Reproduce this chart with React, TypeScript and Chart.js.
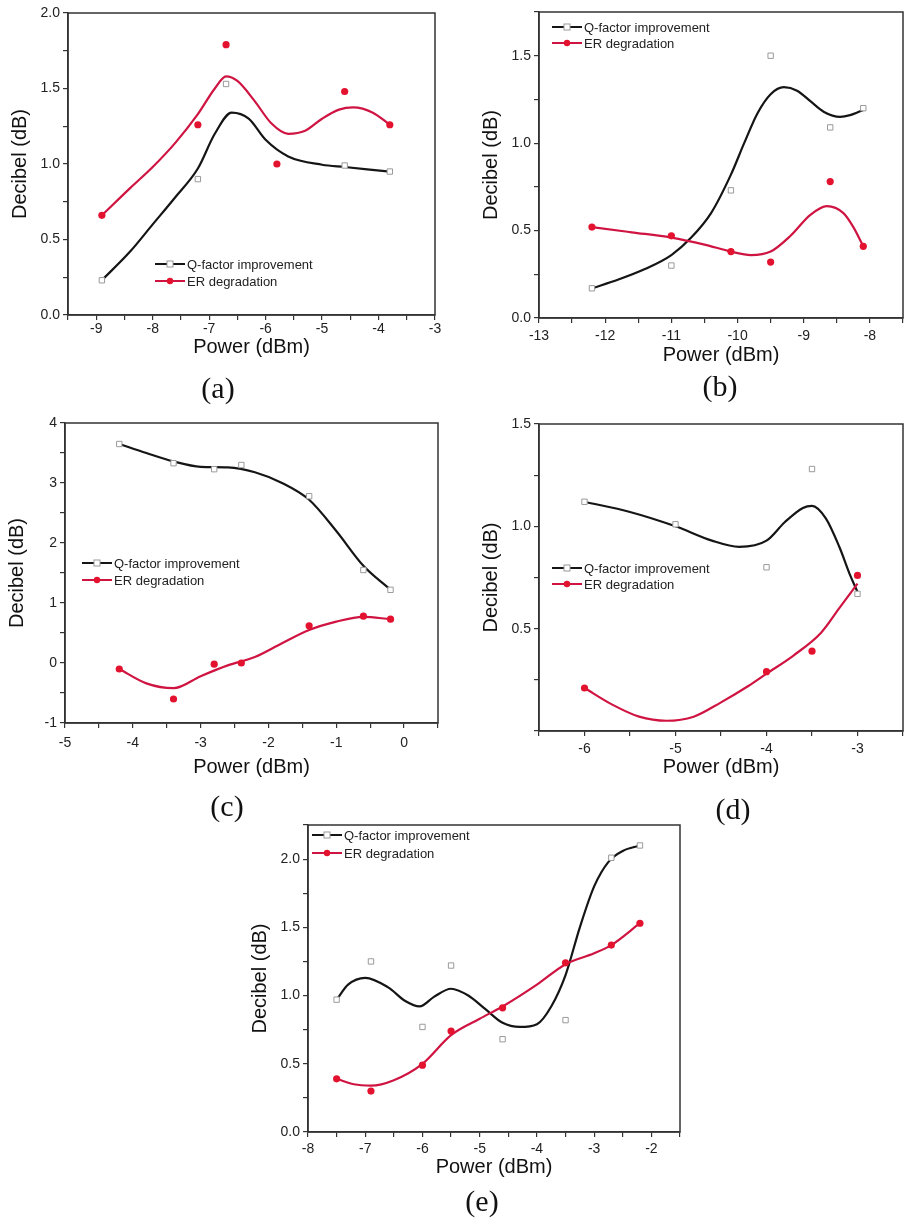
import React, { useEffect, useRef } from "react";
import { Chart, registerables } from "chart.js";
Chart.register(...registerables);

// ---------- data ----------
// Panel (a)
const aPowerQ = [-8.9, -7.2, -6.7, -4.6, -3.8];
const aQ = [0.23, 0.9, 1.53, 0.99, 0.95];
const aPowerER = [-8.9, -7.2, -6.7, -5.8, -4.6, -3.8];
const aER = [0.66, 1.26, 1.79, 1.0, 1.48, 1.26];
const aQFitX = [-8.9, -8.4, -8.0, -7.6, -7.2, -6.9, -6.6, -6.3, -6.0, -5.6, -5.0, -4.6, -4.2, -3.8];
const aQFit = [0.23, 0.42, 0.6, 0.78, 0.97, 1.2, 1.34, 1.3, 1.16, 1.05, 0.995, 0.98, 0.965, 0.95];
const aERFitX = [-8.9, -8.4, -8.0, -7.6, -7.2, -6.9, -6.7, -6.5, -6.2, -5.9, -5.6, -5.3, -5.0, -4.7, -4.45, -4.1, -3.8];
const aERFit = [0.66, 0.84, 0.98, 1.14, 1.33, 1.5, 1.58, 1.55, 1.42, 1.27, 1.2, 1.22, 1.3, 1.36, 1.375, 1.34, 1.26];

// Panel (b)
const bPower = [-12.2, -11.0, -10.1, -9.5, -8.6, -8.1];
const bQ = [0.17, 0.3, 0.73, 1.5, 1.09, 1.2];
const bER = [0.52, 0.47, 0.38, 0.32, 0.78, 0.41];
const bQFitX = [-12.2, -11.8, -11.4, -11.0, -10.7, -10.4, -10.1, -9.9, -9.7, -9.5, -9.3, -9.1, -8.9, -8.7, -8.45, -8.3, -8.1];
const bQFit = [0.17, 0.22, 0.28, 0.36, 0.46, 0.6, 0.82, 1.0, 1.17, 1.28, 1.32, 1.3, 1.24, 1.18, 1.15, 1.16, 1.19];
const bERFitX = [-12.2, -11.6, -11.0, -10.5, -10.1, -9.8, -9.5, -9.2, -8.9, -8.65, -8.4, -8.25, -8.1];
const bERFit = [0.52, 0.49, 0.46, 0.42, 0.38, 0.36, 0.38, 0.47, 0.59, 0.64, 0.6, 0.52, 0.41];

// Panel (c)
const cPower = [-4.2, -3.4, -2.8, -2.4, -1.4, -0.6, -0.2];
const cQ = [3.65, 3.33, 3.23, 3.3, 2.78, 1.55, 1.22];
const cER = [-0.1, -0.6, -0.02, 0.0, 0.62, 0.78, 0.73];
const cQFitX = [-4.2, -3.8, -3.4, -3.0, -2.6, -2.2, -1.8, -1.4, -1.0, -0.6, -0.2];
const cQFit = [3.65, 3.5, 3.36, 3.27, 3.26, 3.18, 3.0, 2.72, 2.2, 1.62, 1.22];
const cERFitX = [-4.2, -3.8, -3.4, -3.0, -2.6, -2.2, -1.8, -1.4, -1.0, -0.6, -0.2];
const cERFit = [-0.1, -0.34, -0.42, -0.22, -0.04, 0.1, 0.33, 0.55, 0.69, 0.77, 0.73];

// Panel (d)
const dPowerQ = [-6.0, -5.0, -4.0, -3.5, -3.0];
const dQ = [1.12, 1.01, 0.8, 1.28, 0.67];
const dPowerER = [-6.0, -4.0, -3.5, -3.0];
const dER = [0.21, 0.29, 0.39, 0.76];
const dQFitX = [-6.0, -5.5, -5.0, -4.6, -4.3, -4.0, -3.8, -3.6, -3.5, -3.35, -3.2, -3.08, -3.0];
const dQFit = [1.12, 1.07, 1.0, 0.93, 0.9, 0.93, 1.02, 1.09, 1.1, 1.04, 0.9, 0.76, 0.68];
const dERFitX = [-6.0, -5.7, -5.4, -5.1, -4.8, -4.5, -4.2, -4.0, -3.7, -3.4, -3.2, -3.0];
const dERFit = [0.21, 0.13, 0.07, 0.05, 0.07, 0.14, 0.22, 0.28, 0.37, 0.48, 0.6, 0.72];

// Panel (e)
const ePower = [-7.5, -6.9, -6.0, -5.5, -4.6, -3.5, -2.7, -2.2];
const eQ = [0.97, 1.25, 0.77, 1.22, 0.68, 0.82, 2.01, 2.1];
const eER = [0.39, 0.3, 0.49, 0.74, 0.91, 1.24, 1.37, 1.53];
const eQFitX = [-7.5, -7.3, -7.0, -6.6, -6.3, -6.05, -5.8, -5.5, -5.2, -4.9, -4.6, -4.3, -4.0, -3.75, -3.5, -3.25, -3.0, -2.75, -2.5, -2.2];
const eQFit = [0.97, 1.08, 1.13, 1.06, 0.96, 0.92, 0.99, 1.05, 1.0, 0.9, 0.8, 0.77, 0.79, 0.92, 1.15, 1.5, 1.8, 1.98, 2.06, 2.1];
const eERFitX = [-7.5, -7.2, -6.9, -6.5, -6.0, -5.5, -5.0, -4.6, -4.0, -3.5, -3.0, -2.7, -2.2];
const eERFit = [0.39, 0.35, 0.34, 0.38, 0.5, 0.71, 0.83, 0.92, 1.08, 1.23, 1.31, 1.37, 1.53];

// ---------- axis settings ----------
const xRanges = [[-9.5, -3], [-13, -7.5], [-5, 0.5], [-6.5, -2.5], [-8, -1.5]];
const yRanges = [[0, 2], [0, 1.75], [-1, 4], [0, 1.5], [0, 2.25]];
const yMajor = [0.5, 0.5, 1, 0.5, 0.5];
const yDecimals = [1, 1, 0, 1, 1];
const panelLetters = ["(a)", "(b)", "(c)", "(d)", "(e)"];
const legendLabels = ["Q-factor improvement", "ER degradation"];

const pts = (xs: number[], ys: number[]) => xs.map((x, i) => ({ x, y: ys[i] }));

const seriesList = [
  { q: pts(aPowerQ, aQ), er: pts(aPowerER, aER), qFit: pts(aQFitX, aQFit), erFit: pts(aERFitX, aERFit) },
  { q: pts(bPower, bQ), er: pts(bPower, bER), qFit: pts(bQFitX, bQFit), erFit: pts(bERFitX, bERFit) },
  { q: pts(cPower, cQ), er: pts(cPower, cER), qFit: pts(cQFitX, cQFit), erFit: pts(cERFitX, cERFit) },
  { q: pts(dPowerQ, dQ), er: pts(dPowerER, dER), qFit: pts(dQFitX, dQFit), erFit: pts(dERFitX, dERFit) },
  { q: pts(ePower, eQ), er: pts(ePower, eER), qFit: pts(eQFitX, eQFit), erFit: pts(eERFitX, eERFit) },
];

// ---------- layout (page pixels) ----------
const LAYOUT = [
  { left: 0, top: 0, w: 450, h: 370, area: [68, 13, 435, 315], xTitle: 32, xPad: 1, legend: [155, 264, 17], label: [218, 388] },
  { left: 450, top: 0, w: 458, h: 370, area: [539, 12, 907, 318], xTitle: 37, xPad: 5, legend: [552, 27, 16], label: [720, 386] },
  { left: 0, top: 400, w: 450, h: 390, area: [65, 423, 438, 723], xTitle: 44, xPad: 7, legend: [82, 563, 17], label: [227, 806] },
  { left: 450, top: 400, w: 458, h: 390, area: [539, 424, 907, 731], xTitle: 36, xPad: 5, legend: [552, 568, 16], label: [733, 809] },
  { left: 230, top: 800, w: 500, h: 400, area: [308, 825, 680, 1132], xTitle: 35, xPad: 4, legend: [312, 835, 18], label: [482, 1201] },
];

const Y_AXIS_W = 60;
const BLACK = "#151515";
const RED_LINE = "#cf1442";
const RED_DOT = "#e3122f";
const Q_MARK = "#9a9a9a";
const FONT = "'Liberation Sans', Arial, sans-serif";

const isMult = (v: number, step: number) => Math.abs(v / step - Math.round(v / step)) < 1e-6;

const framePlugin = {
  id: "frame",
  afterDraw(chart: any) {
    const { ctx, chartArea: a } = chart;
    ctx.save();
    ctx.strokeStyle = "#333";
    ctx.lineWidth = 1.5;
    ctx.strokeRect(a.left, a.top, a.right - a.left, a.bottom - a.top);
    ctx.restore();
  },
};

const legendPlugin = {
  id: "innerLegend",
  afterDraw(chart: any, _args: any, opts: any) {
    const { ctx } = chart;
    const { x, y, gap } = opts;
    ctx.save();
    ctx.font = `13px ${FONT}`;
    ctx.textBaseline = "middle";
    // row 1
    ctx.strokeStyle = BLACK;
    ctx.lineWidth = 2;
    ctx.beginPath();
    ctx.moveTo(x, y);
    ctx.lineTo(x + 30, y);
    ctx.stroke();
    ctx.fillStyle = "#fff";
    ctx.fillRect(x + 12, y - 3, 6, 6);
    ctx.strokeStyle = Q_MARK;
    ctx.lineWidth = 1;
    ctx.strokeRect(x + 12, y - 3, 6, 6);
    ctx.fillStyle = "#222";
    ctx.fillText(legendLabels[0], x + 32, y + 1);
    // row 2
    const y2 = y + gap;
    ctx.strokeStyle = RED_LINE;
    ctx.lineWidth = 2;
    ctx.beginPath();
    ctx.moveTo(x, y2);
    ctx.lineTo(x + 30, y2);
    ctx.stroke();
    ctx.fillStyle = RED_DOT;
    ctx.beginPath();
    ctx.arc(x + 15, y2, 3.2, 0, Math.PI * 2);
    ctx.fill();
    ctx.fillStyle = "#222";
    ctx.fillText(legendLabels[1], x + 32, y2 + 1);
    ctx.restore();
  },
};

function Panel({ idx }: { idx: number }) {
  const ref = useRef<HTMLCanvasElement>(null);
  useEffect(() => {
    const L = LAYOUT[idx];
    const s = seriesList[idx];
    const [al, at, ar, ab] = L.area;
    const xAxisH = L.xTitle + 12;
    const padding = {
      left: al - L.left - Y_AXIS_W,
      top: at - L.top,
      right: L.left + L.w - ar,
      bottom: L.top + L.h - ab - xAxisH,
    };
    const [xmin, xmax] = xRanges[idx];
    const [ymin, ymax] = yRanges[idx];
    const ym = yMajor[idx];
    const chart = new Chart(ref.current as HTMLCanvasElement, {
      type: "scatter",
      data: {
        datasets: [
          {
            label: "ER degradation points",
            data: s.er,
            showLine: false,
            pointStyle: "circle",
            pointRadius: 3.6,
            pointBackgroundColor: RED_DOT,
            pointBorderColor: RED_DOT,
            pointBorderWidth: 0,
          },
          {
            label: "Q-factor improvement points",
            data: s.q,
            showLine: false,
            pointStyle: "rect",
            pointRadius: 3.8,
            pointBackgroundColor: "#fff",
            pointBorderColor: Q_MARK,
            pointBorderWidth: 1,
          },
          {
            label: "ER degradation",
            data: s.erFit,
            showLine: true,
            pointRadius: 0,
            borderColor: RED_LINE,
            borderWidth: 2.2,
            cubicInterpolationMode: "monotone",
          },
          {
            label: "Q-factor improvement",
            data: s.qFit,
            showLine: true,
            pointRadius: 0,
            borderColor: BLACK,
            borderWidth: 2.2,
            cubicInterpolationMode: "monotone",
          },
        ],
      },
      options: {
        animation: false,
        responsive: false,
        devicePixelRatio: 1,
        layout: { padding },
        plugins: {
          legend: { display: false },
          tooltip: { enabled: false },
          innerLegend: { x: L.legend[0] - L.left, y: L.legend[1] - L.top, gap: L.legend[2] },
        } as any,
        scales: {
          x: {
            type: "linear",
            min: xmin,
            max: xmax,
            afterFit: (sc: any) => {
              sc.height = xAxisH;
            },
            border: { display: true, color: "#333", width: 1.5 },
            grid: { display: true, drawOnChartArea: false, drawTicks: true, tickLength: 5, color: "#333", lineWidth: 1.2 },
            ticks: {
              stepSize: 0.5,
              autoSkip: false,
              maxRotation: 0,
              padding: L.xPad,
              color: "#222",
              font: { family: FONT, size: 14 },
              callback: (v: any) => (isMult(Number(v), 1) ? String(Math.round(Number(v))) : ""),
            },
            title: {
              display: true,
              text: "Power (dBm)",
              color: "#111",
              padding: 0,
              font: { family: FONT, size: 20 },
            },
          },
          y: {
            type: "linear",
            min: ymin,
            max: ymax,
            afterFit: (sc: any) => {
              sc.width = Y_AXIS_W;
            },
            border: { display: true, color: "#333", width: 1.5 },
            grid: { display: true, drawOnChartArea: false, drawTicks: true, tickLength: 5, color: "#333", lineWidth: 1.2 },
            ticks: {
              stepSize: ym / 2,
              autoSkip: false,
              padding: 3,
              color: "#222",
              font: { family: FONT, size: 14 },
              callback: (v: any) => {
                const n = Number(v);
                if (!isMult(n, ym)) return "";
                if (idx === 3 && Math.abs(n) < 1e-9) return "";
                return n.toFixed(yDecimals[idx]);
              },
            },
            title: {
              display: true,
              text: "Decibel (dB)",
              color: "#111",
              padding: 0,
              font: { family: FONT, size: 20 },
            },
          },
        },
      } as any,
      plugins: [framePlugin, legendPlugin],
    });
    return () => chart.destroy();
  }, [idx]);
  const L = LAYOUT[idx];
  return (
    <canvas
      ref={ref}
      width={L.w}
      height={L.h}
      style={{ position: "absolute", left: L.left, top: L.top, width: L.w, height: L.h }}
    />
  );
}

export default function App() {
  return (
    <div style={{ position: "absolute", left: 0, top: 0, width: 908, height: 1220, background: "#fff", overflow: "hidden" }}>
      {LAYOUT.map((_, i) => (
        <Panel key={i} idx={i} />
      ))}
      {LAYOUT.map((L, i) => (
        <div
          key={"lbl" + i}
          style={{
            position: "absolute",
            left: L.label[0] - 40,
            top: L.label[1] - 20,
            width: 80,
            height: 40,
            lineHeight: "40px",
            textAlign: "center",
            fontFamily: "'Liberation Serif', 'Times New Roman', serif",
            fontSize: 30,
            color: "#111",
          }}
        >
          {panelLetters[i]}
        </div>
      ))}
    </div>
  );
}
